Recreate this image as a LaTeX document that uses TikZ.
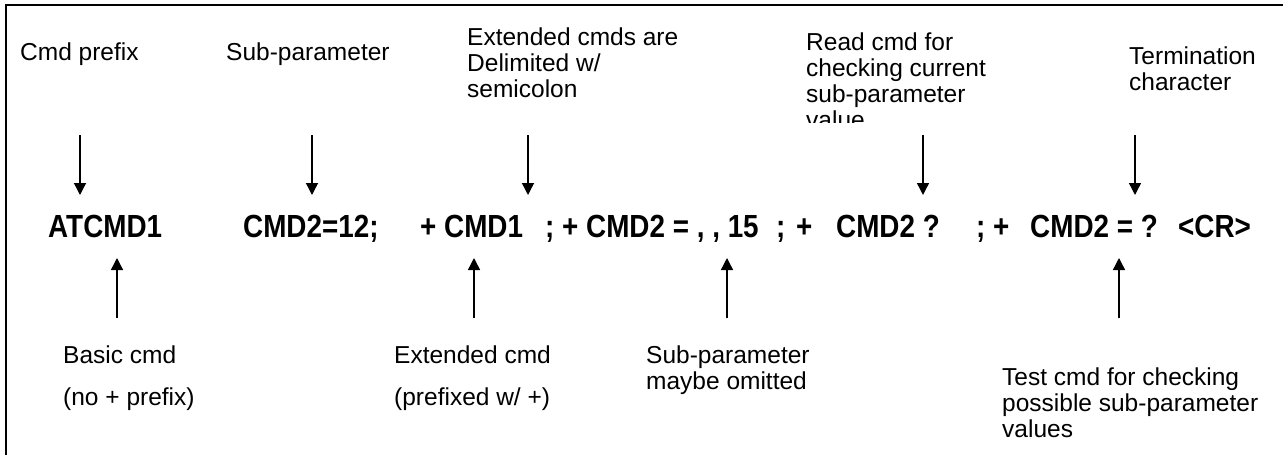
\documentclass[tikz,border=0pt]{standalone}
\usepackage{fontspec}
\setmainfont{Liberation Sans}
\newfontfamily\cmdfont{Liberation Sans}[FakeStretch=0.87]
\usetikzlibrary{arrows.meta}

\tikzset{
  lbl/.style={anchor=north west, inner sep=0pt, align=left,
    font=\fontsize{24.5}{26}\selectfont},
  cmd/.style={anchor=base west, inner sep=0pt,
    font=\cmdfont\fontsize{32}{34}\selectfont\bfseries},
  pointer/.style={-{Triangle[length=12pt,width=12pt]}, line width=1.4pt},
}

\begin{document}
\begin{tikzpicture}[x=1pt,y=-1pt]
\useasboundingbox (0,0) rectangle (1283,455);
% frame (only top and left edge show)
\draw[line width=2pt] (6,455) -- (6,5) -- (1283,5);

% what the parts are
\node[lbl] (prefix) at (20,43) {Cmd prefix};
\node[lbl] (subpar) at (226,43) {Sub-parameter};
\node[lbl] (delim) at (467,28) {Extended cmds are\\Delimited w/\\semicolon};
\begin{scope}
\clip (800,0) rectangle (1000,122);
\node[lbl] (readcmd) at (806,33) {Read cmd for\\checking current\\sub-parameter\\value};
\end{scope}
\node[lbl] (term) at (1129,47) {Termination\\character};

% the command line
\foreach \x/\t [count=\i] in {48/ATCMD1, 243/{CMD2=12;}, 420/{+ CMD1},
    545/{; + CMD2 = , , 15}, 776/;, 796/+, 836/{CMD2 ?},
    976/{; +}, 1030/{CMD2 = ?}, 1178/{<CR>}}
  \node[cmd] (c\i) at (\x,237) {\t};

% arrows down to the line
\foreach \x [count=\i] in {80,312,528,923,1135} {
  \coordinate (dn\i) at (\x,135);
  \coordinate (dt\i) at (\x,195);
  \draw[pointer] (dn\i) -- (dt\i);
}
% arrows up to the line
\foreach \x [count=\i] in {117,474,727,1119} {
  \coordinate (up\i) at (\x,318);
  \coordinate (ut\i) at (\x,258);
  \draw[pointer] (up\i) -- (ut\i);
}

\node[lbl] (basic) at (63,346) {Basic cmd\\[16pt](no + prefix)};
\node[lbl] (extcmd) at (394,346) {Extended cmd\\[16pt](prefixed w/ +)};
\node[lbl] (omit) at (646,346) {Sub-parameter\\maybe omitted};
\node[lbl] (testcmd) at (1002,368) {Test cmd for checking\\possible sub-parameter\\values};
\end{tikzpicture}
\end{document}
